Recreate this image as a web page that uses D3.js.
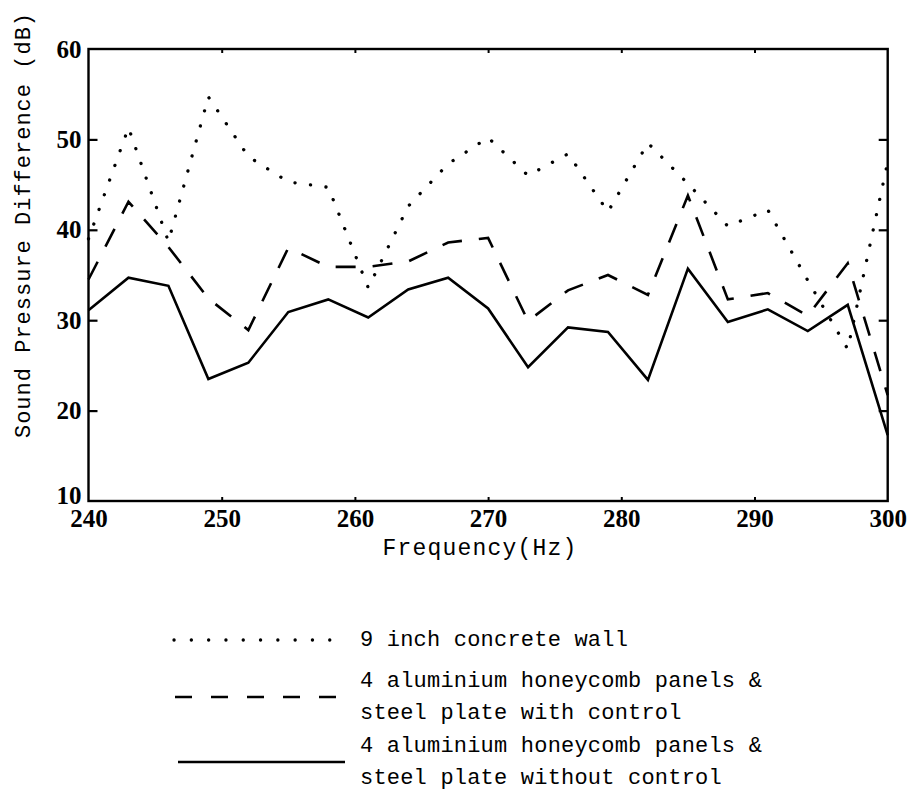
<!DOCTYPE html>
<html>
<head>
<meta charset="utf-8">
<script src="https://cdn.jsdelivr.net/npm/d3@7"></script>
<style>
  html, body { margin: 0; padding: 0; background: #fff; }
  svg { display: block; }
</style>
</head>
<body>
<svg id="chart" width="913" height="808"></svg>
<script>
// ---- Data ----
const frequencies = [240, 243, 246, 249, 252, 255, 258, 261, 264, 267, 270, 273, 276, 279, 282, 285, 288, 291, 294, 297, 300];
const concreteWall = [39.0, 51.3, 38.7, 54.7, 48.1, 45.3, 44.7, 33.6, 42.6, 47.3, 50.2, 46.0, 48.4, 42.0, 49.6, 45.1, 40.4, 42.2, 34.4, 26.8, 47.5];
const withControl = [34.5, 43.1, 38.1, 32.4, 28.9, 38.0, 35.9, 35.9, 36.5, 38.6, 39.1, 29.9, 33.3, 35.0, 32.8, 43.8, 32.3, 33.0, 30.5, 36.3, 21.7];
const withoutControl = [31.1, 34.7, 33.8, 23.5, 25.3, 30.9, 32.3, 30.3, 33.4, 34.7, 31.3, 24.8, 29.2, 28.7, 23.4, 35.7, 29.8, 31.2, 28.8, 31.7, 17.3];
const xTicks = [240, 250, 260, 270, 280, 290, 300];
const yTicks = [10, 20, 30, 40, 50, 60];
const seriesNames = ["9 inch concrete wall",
  ["4 aluminium honeycomb panels &", "steel plate with control"],
  ["4 aluminium honeycomb panels &", "steel plate without control"]];
const xTitle = "Frequency(Hz)";
const yTitle = "Sound Pressure Difference (dB)";

// ---- Layout ----
const svg = d3.select("#chart");
const L = 88.5, R = 887.7, T = 49, B = 501;
const x = d3.scaleLinear().domain([240, 300]).range([L, R]);
const y = d3.scaleLinear().domain([10, 60]).range([B, T]);

const mono = "'Liberation Mono', 'Courier New', monospace";
const serif = "'Liberation Serif', 'Times New Roman', serif";

// Frame
svg.append("rect").attr("x", L).attr("y", T).attr("width", R - L).attr("height", B - T)
  .attr("fill", "none").attr("stroke", "#000").attr("stroke-width", 2.4);

// Axes (ticks inward)
const inner = yTicks.filter(d => d > 10 && d < 60);
const innerX = xTicks.filter(d => d > 240 && d < 300);

const gl = svg.append("g").attr("transform", `translate(${L},0)`)
  .call(d3.axisLeft(y).tickValues(yTicks).tickSize(0).tickPadding(7));
gl.select(".domain").remove();
gl.selectAll("text").attr("font-family", serif).attr("font-size", 25).attr("font-weight", "bold").attr("fill", "#000")
  .attr("dy", d => d === 10 ? "0.1em" : "0.32em");

svg.append("g").attr("transform", `translate(${L},0)`)
  .call(d3.axisRight(y).tickValues(inner).tickSize(9).tickFormat(""))
  .call(g => g.select(".domain").remove())
  .selectAll("line").attr("stroke", "#000").attr("stroke-width", 2.2);

svg.append("g").attr("transform", `translate(${R},0)`)
  .call(d3.axisLeft(y).tickValues(inner).tickSize(9).tickFormat(""))
  .call(g => g.select(".domain").remove())
  .selectAll("line").attr("stroke", "#000").attr("stroke-width", 2.2);

const gb = svg.append("g").attr("transform", `translate(0,${B})`)
  .call(d3.axisBottom(x).tickValues(xTicks).tickSize(0).tickPadding(8));
gb.select(".domain").remove();
gb.selectAll("text").attr("font-family", serif).attr("font-size", 25).attr("font-weight", "bold").attr("fill", "#000");

svg.append("g").attr("transform", `translate(0,${B})`)
  .call(d3.axisTop(x).tickValues(innerX).tickSize(4).tickFormat(""))
  .call(g => g.select(".domain").remove())
  .selectAll("line").attr("stroke", "#000").attr("stroke-width", 2);

svg.append("g").attr("transform", `translate(0,${T})`)
  .call(d3.axisBottom(x).tickValues(innerX).tickSize(4).tickFormat(""))
  .call(g => g.select(".domain").remove())
  .selectAll("line").attr("stroke", "#000").attr("stroke-width", 2);

// Titles
svg.append("text").attr("x", (x(240) + x(300)) / 2 - 8).attr("y", 549)
  .attr("text-anchor", "middle").attr("dominant-baseline", "middle")
  .attr("font-family", mono).attr("font-size", 23).attr("letter-spacing", 1.2)
  .attr("fill", "#000").text(xTitle);

svg.append("text").attr("transform", "translate(24,225) rotate(-90)")
  .attr("text-anchor", "middle").attr("dominant-baseline", "middle")
  .attr("font-family", mono).attr("font-size", 22).attr("letter-spacing", 1.0)
  .attr("fill", "#000").text(yTitle);

// Lines
const line = d3.line().x(d => x(d[0])).y(d => y(d[1]));
const styles = [
  { data: concreteWall, dash: "0.1,15.5", width: 3.3, cap: "round" },
  { data: withControl, dash: "20,17", width: 2.6, cap: "butt" },
  { data: withoutControl, dash: null, width: 2.6, cap: "butt" }
];

styles.forEach(s => {
  svg.append("path")
    .datum(frequencies.map((f, i) => [f, s.data[i]]))
    .attr("d", line)
    .attr("fill", "none").attr("stroke", "#000")
    .attr("stroke-width", s.width)
    .attr("stroke-linecap", s.cap)
    .attr("stroke-linejoin", "miter")
    .attr("stroke-dasharray", s.dash);
});

// Legend
const legX1 = 172, legX2 = 345, legTX = 360;
const legendRows = [
  { ly: 640, lines: [seriesNames[0]], ty: [640] },
  { ly: 697, lines: seriesNames[1], ty: [681, 713] },
  { ly: 762, lines: seriesNames[2], ty: [746, 778] }
];
legendRows.forEach((r, i) => {
  const s = styles[i];
  svg.append("line").attr("x1", legX1 + (i === 0 ? 2 : i === 1 ? 3 : 6)).attr("x2", legX2)
    .attr("y1", r.ly).attr("y2", r.ly)
    .attr("stroke", "#000").attr("stroke-width", s.width)
    .attr("stroke-linecap", s.cap)
    .attr("stroke-dasharray", i === 0 ? "0.1,17.2" : i === 1 ? "17,19" : null);
  r.lines.forEach((t, j) => {
    svg.append("text").attr("x", legTX).attr("y", r.ty[j])
      .attr("dominant-baseline", "middle")
      .attr("font-family", mono).attr("font-size", 22).attr("letter-spacing", 0.2)
      .attr("fill", "#000").text(t);
  });
});
</script>
</body>
</html>
